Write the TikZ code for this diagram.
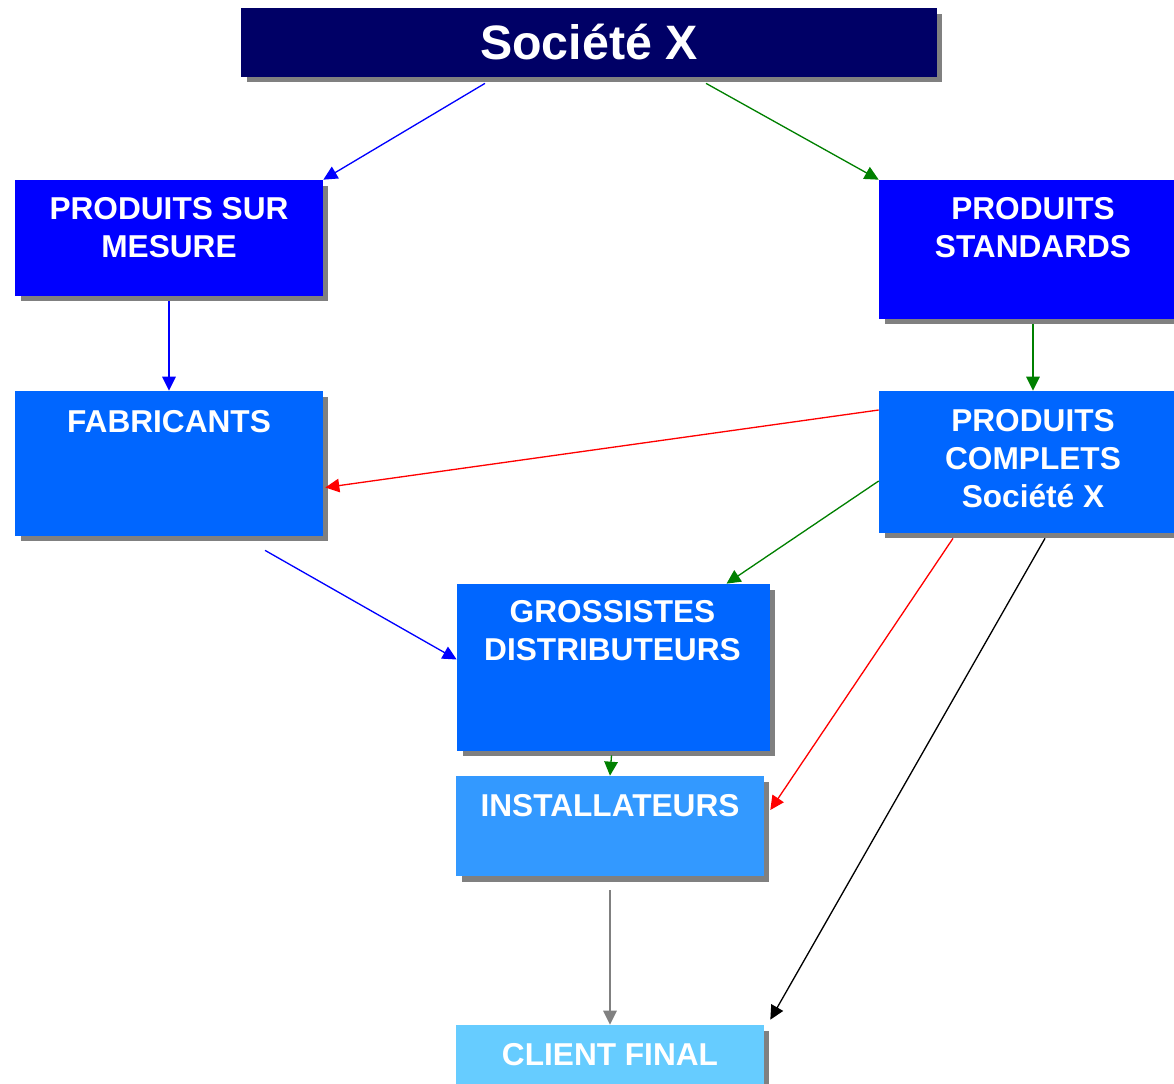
\documentclass[tikz,border=0pt]{standalone}
\usepackage{fontspec}
\setmainfont{Liberation Sans}
\usetikzlibrary{arrows.meta,calc,shadows}

\definecolor{navy}{HTML}{000066}
\definecolor{pureblue}{HTML}{0000FF}
\definecolor{midblue}{HTML}{0066FF}
\definecolor{lightblue}{HTML}{3399FF}
\definecolor{paleblue}{HTML}{66CCFF}
\definecolor{shade}{HTML}{808080}
\definecolor{dgreen}{HTML}{008000}

\begin{document}
\begin{tikzpicture}[x=0.02cm, y=-0.02cm,
    box/.style={rectangle, inner sep=0pt, minimum width=6.16cm, fill=#1,
        drop shadow={shadow xshift=0.11cm, shadow yshift=-0.11cm, fill=shade, opacity=1}},
    txt/.style={anchor=north, inner sep=0pt, align=center, text=white,
        font=\fontsize{18}{21.6}\selectfont\bfseries},
    link/.style={draw=#1, line width=0.75pt, -{Triangle[length=0.28cm, width=0.27cm]}}]

    \useasboundingbox (0,0) rectangle (1174,1083);
    \clip (0,0) rectangle (1174,1083);

    % Boxes
    \node[box=navy, minimum width=13.92cm, minimum height=1.38cm, text=white,
        font=\fontsize{27.5}{33}\selectfont\bfseries] (soc) at (589,42.5) {Société X};
    \node[box=pureblue,  minimum height=2.32cm] (mesure)    at (169,238)    {};
    \node[box=pureblue,  minimum height=2.78cm] (standards) at (1033,249.5) {};
    \node[box=midblue,   minimum height=2.9cm]  (fab)       at (169,463.5)  {};
    \node[box=midblue,   minimum height=2.84cm] (complets)  at (1033,462)   {};
    \node[box=midblue,   minimum width=6.26cm, minimum height=3.34cm] (gross) at (613.5,667.5) {};
    \node[box=lightblue, minimum height=2cm]    (inst)      at (610,826)    {};
    \node[box=paleblue,  minimum height=1.4cm]  (client)    at (610,1060)   {};

    % Texts at the top of the boxes
    \node[txt] (mesuret)    at ($(mesure.north)+(0,17)$)    {PRODUITS SUR\\MESURE};
    \node[txt] (standardst) at ($(standards.north)+(0,17)$) {PRODUITS\\STANDARDS};
    \node[txt] (fabt)       at ($(fab.north)+(0,19)$)       {FABRICANTS};
    \node[txt] (completst)  at ($(complets.north)+(0,18)$)  {PRODUITS\\COMPLETS\\Société X};
    \node[txt] (grosst)     at ($(gross.north)+(-1,16)$)    {GROSSISTES\\DISTRIBUTEURS};
    \node[txt] (instt)      at ($(inst.north)+(0,18)$)      {INSTALLATEURS};
    \node[txt] (clientt)    at ($(client.north)+(0,18)$)    {CLIENT FINAL};

    % Links
    \draw[link=pureblue]  ($(soc.south)+(-104,6)$)     -- (mesure.north east);
    \draw[link=dgreen]    ($(soc.south)+(117,6)$)      -- (standards.north west);
    \draw[link=pureblue]  ($(mesure.south)+(0,5)$)     -- (fab.north);
    \draw[link=dgreen]    ($(standards.south)+(0,5)$)  -- (complets.north);
    \draw[link=red]       ($(complets.west)+(0,-52)$)  -- ($(fab.east)+(2,24)$);
    \draw[link=dgreen]    ($(complets.west)+(0,19)$)   -- ($(gross.north)+(113,0)$);
    \draw[link=pureblue]  ($(fab.south)+(96,14)$)      -- ($(gross.west)+(0,-8)$);
    \draw[link=dgreen]    ($(gross.south)+(-2,4)$)     -- (inst.north);
    \draw[link=red]       ($(complets.south)+(-80,5)$) -- ($(inst.east)+(6,-16)$);
    \draw[link=black]     ($(complets.south)+(12,5)$)  -- ($(client.north east)+(6,-5)$);
    \draw[link=shade]     ($(inst.south)+(0,14)$)      -- (client.north);

\end{tikzpicture}
\end{document}
